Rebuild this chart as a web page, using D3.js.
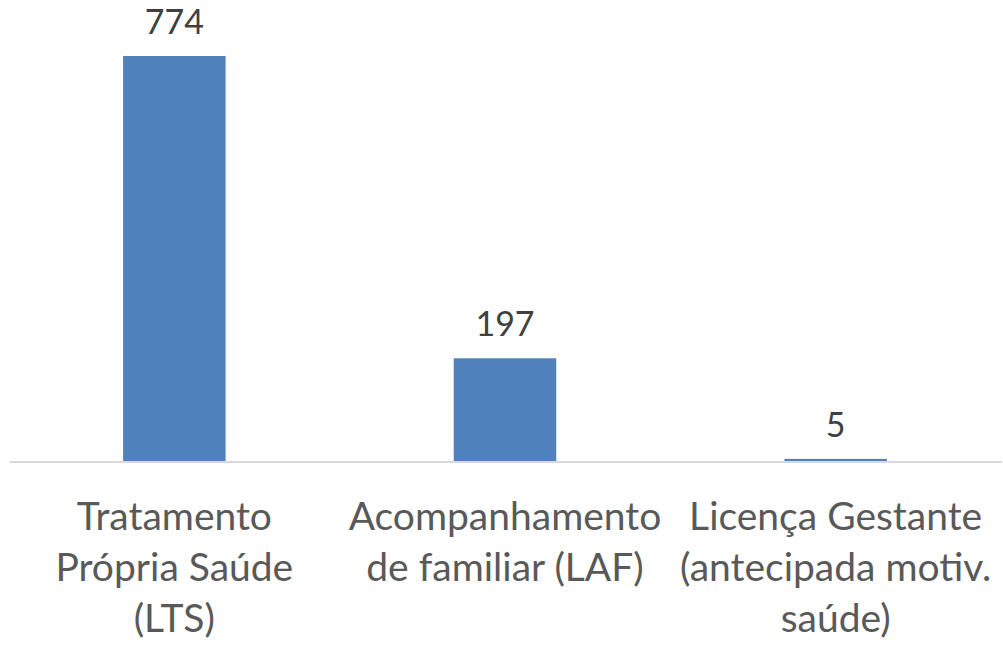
<!DOCTYPE html>
<html>
<head>
<meta charset="utf-8">
<script src="https://cdn.jsdelivr.net/npm/d3@7"></script>
<style>
  html, body { margin: 0; padding: 0; background: #fff; }
  svg { display: block; }
</style>
</head>
<body>
<svg id="chart" width="1003" height="645"></svg>
<script>
const categories = [
  "Tratamento Própria Saúde (LTS)",
  "Acompanhamento de familiar (LAF)",
  "Licença Gestante (antecipada motiv. saúde)"
];
const categoryLines = [
  ["Tratamento", "Própria Saúde", "(LTS)"],
  ["Acompanhamento", "de familiar (LAF)"],
  ["Licença Gestante", "(antecipada motiv.", "saúde)"]
];
const values = [774, 197, 5];

const W = 1003, H = 645;
const margin = { left: 9, right: 2, top: 56, baseline: 461.5 };
const svg = d3.select("#chart");

const x = d3.scaleBand()
  .domain(categories)
  .range([margin.left, W - margin.right])
  .paddingInner(0.69)
  .paddingOuter(0.345);

const y = d3.scaleLinear()
  .domain([0, 774])
  .range([margin.baseline, margin.top]);

const fontFamily = "Lato, 'Open Sans', sans-serif";

// bars
svg.append("g").selectAll("rect")
  .data(values)
  .join("rect")
  .attr("x", (d, i) => x(categories[i]))
  .attr("width", x.bandwidth())
  .attr("y", d => y(d))
  .attr("height", d => y(0) - y(d))
  .attr("fill", "#4f81bd");

// axis line
const axis = d3.axisBottom(x).tickSize(0).tickFormat("");
const ag = svg.append("g").attr("transform", `translate(0,${y(0)})`).call(axis);
ag.select(".domain").attr("stroke", "#d9d9d9").attr("stroke-width", 2);

// data labels
svg.append("g").selectAll("text")
  .data(values)
  .join("text")
  .attr("x", (d, i) => x(categories[i]) + x.bandwidth() / 2)
  .attr("y", d => y(d) - 22)
  .attr("text-anchor", "middle")
  .attr("font-family", fontFamily)
  .attr("font-size", 34)
  .attr("fill", "#404040")
  .text(d => d);

// category labels
const lg = svg.append("g");
categories.forEach((c, i) => {
  const t = lg.append("text")
    .attr("x", x(c) + x.bandwidth() / 2)
    .attr("y", 530)
    .attr("text-anchor", "middle")
    .attr("font-family", fontFamily)
    .attr("font-size", 39)
    .attr("fill", "#595959");
  categoryLines[i].forEach((ln, j) => {
    t.append("tspan")
      .attr("x", x(c) + x.bandwidth() / 2)
      .attr("dy", j === 0 ? 0 : 51)
      .text(ln);
  });
});
</script>
</body>
</html>
